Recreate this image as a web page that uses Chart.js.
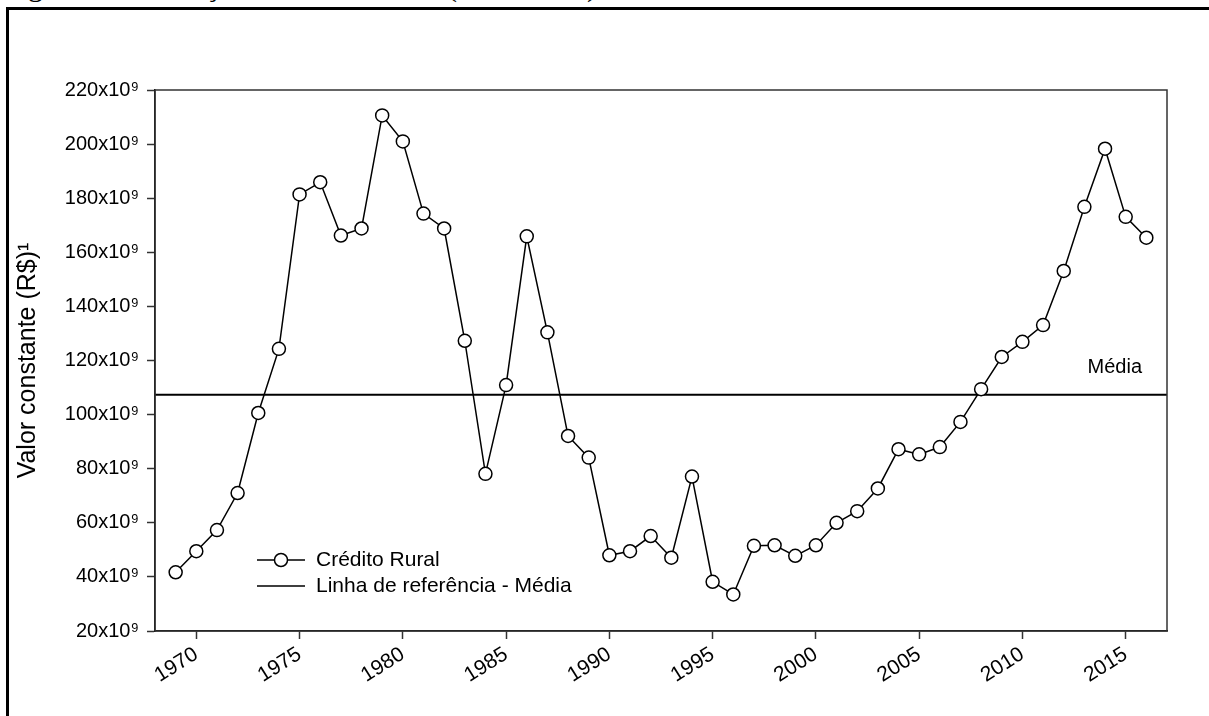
<!DOCTYPE html>
<html>
<head>
<meta charset="utf-8">
<script src="https://cdn.jsdelivr.net/npm/chart.js@4.4.1/dist/chart.umd.min.js"></script>
<style>
body { margin: 0; background: #fff; overflow: hidden; width: 1209px; height: 716px; position: relative; }
#moldura { position: absolute; left: 6px; top: 7px; width: 1300px; height: 800px; border: 3px solid #000; }
#figura { position: absolute; left: 3px; top: -29px; font: 30px "Liberation Serif"; line-height: 30px; white-space: nowrap; }
canvas { position: absolute; left: 0; top: 0; }
</style>
</head>
<body>
<div id="figura">Figura 1 – Evolução do crédito rural (1969-2016)</div>
<div id="moldura"></div>
<canvas id="grafico" width="1209" height="716"></canvas>
<script>
// anos e valores (bilhões de R$, valor constante)
var anos = [1969, 1970, 1971, 1972, 1973, 1974, 1975, 1976, 1977, 1978, 1979, 1980,
    1981, 1982, 1983, 1984, 1985, 1986, 1987, 1988, 1989, 1990, 1991, 1992,
    1993, 1994, 1995, 1996, 1997, 1998, 1999, 2000, 2001, 2002, 2003, 2004,
    2005, 2006, 2007, 2008, 2009, 2010, 2011, 2012, 2013, 2014, 2015, 2016];
var creditoRural = [41.7, 49.5, 57.3, 71.0, 100.6, 124.3, 181.4, 185.9, 166.2, 168.8, 210.6, 201.0,
    174.3, 168.8, 127.3, 78.1, 110.9, 165.9, 130.4, 92.1, 84.1, 48.0, 49.5, 55.1,
    47.1, 77.1, 38.2, 33.5, 51.5, 51.7, 47.8, 51.7, 60.0, 64.3, 72.7, 87.2,
    85.3, 88.0, 97.3, 109.4, 121.3, 126.9, 133.1, 153.1, 176.8, 198.3, 173.1, 165.4];
var media = 107.3;
var xTicks = [1970, 1975, 1980, 1985, 1990, 1995, 2000, 2005, 2010, 2015];
var xMin = 1968, xMax = 2017;
var yMin = 20, yMax = 220, yPasso = 20;

var fonte = '"Liberation Sans", Arial, sans-serif';
Chart.defaults.color = '#000';
Chart.defaults.font.family = fonte;

var extras = {
    id: 'extras',
    afterDatasetsDraw: function (chart) {
        var c = chart.ctx, a = chart.chartArea;
        var yS = chart.scales.y;
        c.save();
        // moldura do grafico
        c.strokeStyle = '#333';
        c.lineWidth = 1.5;
        c.strokeRect(a.left, a.top, a.right - a.left, a.bottom - a.top);
        // texto "Média"
        c.fillStyle = '#000';
        c.font = '20px ' + fonte;
        c.textAlign = 'right';
        c.textBaseline = 'alphabetic';
        c.fillText('Média', a.right - 25, yS.getPixelForValue(media) - 22);
        // legenda
        var lx = a.left + 102, ly = a.bottom - 71;
        c.strokeStyle = '#000';
        c.lineWidth = 1.5;
        c.beginPath();
        c.moveTo(lx, ly); c.lineTo(lx + 48, ly);
        c.moveTo(lx, ly + 26); c.lineTo(lx + 48, ly + 26);
        c.stroke();
        c.beginPath();
        c.arc(lx + 24, ly, 6.5, 0, Math.PI * 2);
        c.fillStyle = '#fff';
        c.fill();
        c.stroke();
        c.fillStyle = '#000';
        c.font = '21px ' + fonte;
        c.textAlign = 'left';
        c.textBaseline = 'middle';
        c.fillText('Crédito Rural', lx + 59, ly);
        c.fillText('Linha de referência - Média', lx + 59, ly + 26);
        c.restore();
    }
};

new Chart(document.getElementById('grafico'), {
    type: 'line',
    data: {
        datasets: [{
            label: 'Crédito Rural',
            data: anos.map(function (a, i) { return { x: a, y: creditoRural[i] }; }),
            borderColor: '#000',
            borderWidth: 1.5,
            pointRadius: 6.5,
            pointBackgroundColor: '#fff',
            pointBorderColor: '#000',
            pointBorderWidth: 1.5,
            tension: 0,
            order: 1
        }, {
            label: 'Linha de referência - Média',
            data: [{ x: xMin, y: media }, { x: xMax, y: media }],
            borderColor: '#000',
            borderWidth: 2,
            pointRadius: 0,
            order: 2
        }]
    },
    options: {
        responsive: false,
        animation: false,
        layout: { padding: { top: 90, right: 42, left: 0, bottom: 0 } },
        plugins: { legend: { display: false }, tooltip: { enabled: false } },
        scales: {
            x: {
                type: 'linear',
                min: xMin,
                max: xMax,
                afterBuildTicks: function (s) { s.ticks = xTicks.map(function (v) { return { value: v }; }); },
                afterFit: function (s) { s.height = 85; },
                grid: { drawOnChartArea: false, tickLength: 8, tickColor: '#333', tickWidth: 1.5 },
                border: { color: '#000', width: 1.5 },
                ticks: {
                    minRotation: 32, maxRotation: 32, padding: 3,
                    font: { size: 21 },
                    callback: function (v) { return String(v); }
                }
            },
            y: {
                min: yMin,
                max: yMax,
                afterFit: function (s) { s.width = 155; },
                grid: { drawOnChartArea: false, tickLength: 8, tickColor: '#333', tickWidth: 1.5 },
                border: { color: '#000', width: 1.5 },
                ticks: {
                    stepSize: yPasso, padding: 8,
                    font: { size: 20 },
                    callback: function (v) { return v + 'x10⁹'; }
                },
                title: {
                    display: true,
                    text: 'Valor constante (R$)¹',
                    font: { size: 25 },
                    padding: { top: 13, bottom: 0 }
                }
            }
        }
    },
    plugins: [extras]
});
</script>
</body>
</html>
